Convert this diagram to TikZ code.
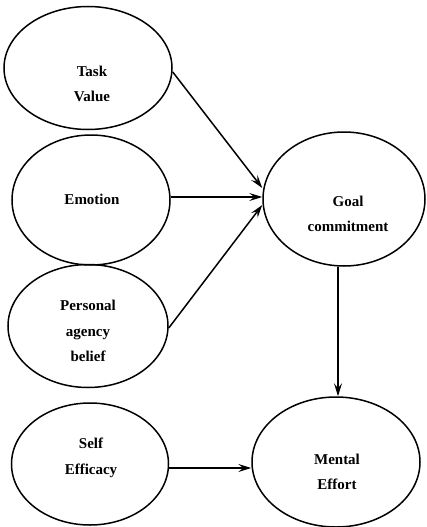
\documentclass[tikz,border=0pt]{standalone}
\usepackage{fontspec}
\setmainfont{Liberation Serif}
\usetikzlibrary{arrows.meta,shapes.geometric}
\begin{document}
\begin{tikzpicture}[x=1pt,y=-1pt,
  oval/.style={draw,ellipse,line width=1.5pt,inner sep=0pt},
  lbl/.style={align=center,font=\bfseries\fontsize{15}{25.5}\selectfont,inner sep=0pt},
  arr/.style={line width=1.5pt,-{Stealth[length=13pt,width=8pt,inset=5pt]}}]
\useasboundingbox (0,0) rectangle (426,527);
\node[oval,minimum width=168pt,minimum height=123pt] (tv) at (88,68) {};
\node[oval,minimum width=158pt,minimum height=130pt] (em) at (91,200) {};
\node[oval,minimum width=162pt,minimum height=134pt] (gc) at (344,199) {};
\node[oval,minimum width=160pt,minimum height=123pt] (pa) at (88,326) {};
\node[oval,minimum width=157pt,minimum height=122pt] (se) at (90,464) {};
\node[oval,minimum width=168pt,minimum height=130pt] (me) at (336,462) {};
\node[lbl] (tvt) at (92,84) {Task\\Value};
\node[lbl] (emt) at (92,199) {Emotion};
\node[lbl] (gct) at (348,214) {Goal\\commitment};
\node[lbl] (pat) at (88,331) {Personal\\agency\\belief};
\node[lbl] (set) at (91,458) {Self\\Efficacy};
\node[lbl] (met) at (337,472) {Mental\\Effort};
\draw[arr] (tv.east) ++(0,4) coordinate (a1) (a1) -- (gc.west |- 0,188) coordinate (b1);
\draw[arr] (em.east |- 0,197) -- (gc.west |- 0,197);
\draw[arr] (pa.east |- 0,328) -- (gc.west |- 0,205);
\draw[arr] (gc.south -| 338,0) -- (me.north -| 338,0);
\draw[arr] (se.east |- 0,468) -- (me.west |- 0,468);
\end{tikzpicture}
\end{document}
